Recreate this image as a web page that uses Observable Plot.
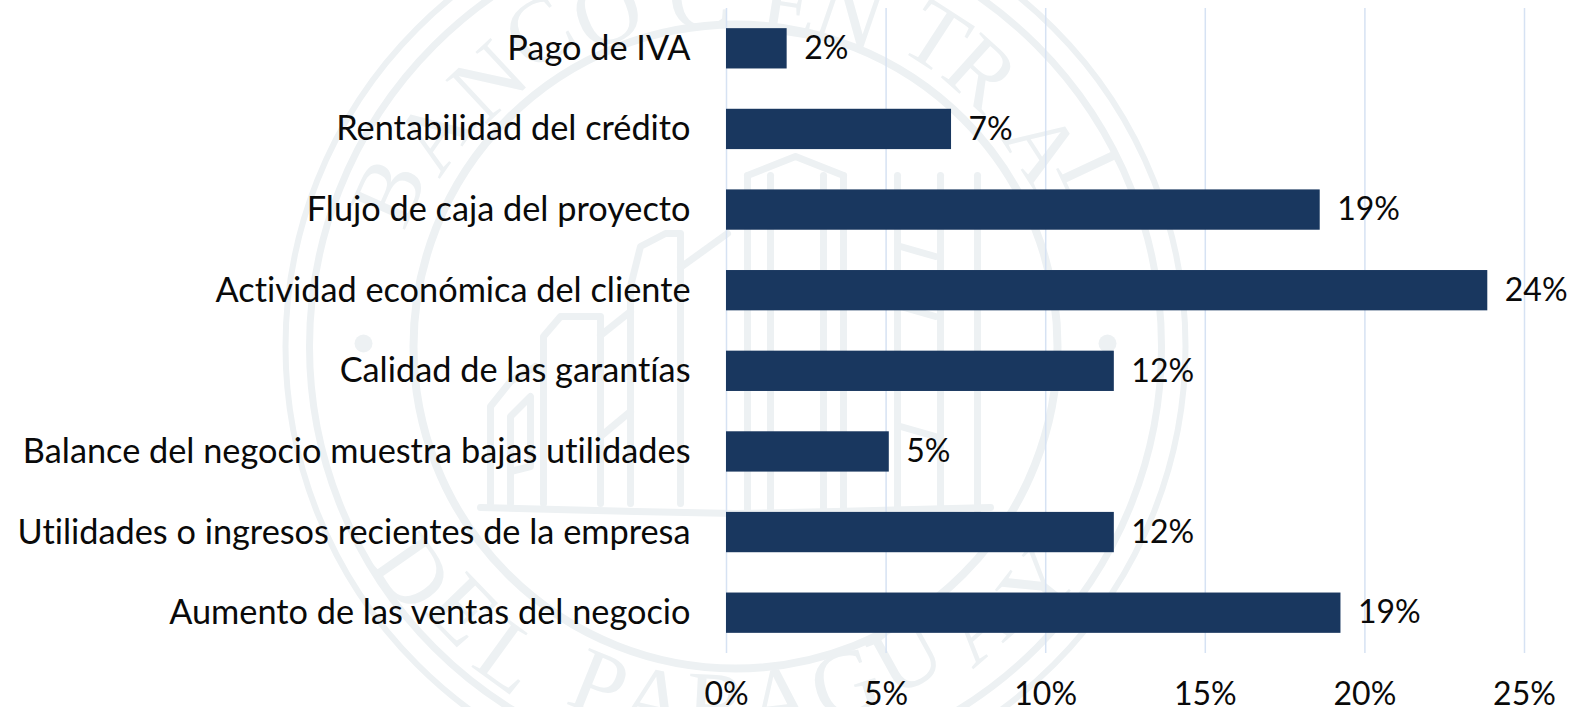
<!DOCTYPE html>
<html><head><meta charset="utf-8">
<script src="https://cdn.jsdelivr.net/npm/d3@7"></script>
<script src="https://cdn.jsdelivr.net/npm/@observablehq/plot@0.6"></script>
<style>html,body{margin:0;padding:0;background:#fff;overflow:hidden}
#chart{position:relative;width:1574px;height:707px}
#chart svg{position:absolute;left:0;top:0;background:transparent}
text{font-variant-ligatures:none}</style>
</head><body><div id="chart"></div>
<script>
const categories = ["Pago de IVA","Rentabilidad del crédito","Flujo de caja del proyecto","Actividad económica del cliente","Calidad de las garantías","Balance del negocio muestra bajas utilidades","Utilidades o ingresos recientes de la empresa","Aumento de las ventas del negocio"];
const values = [1.9,7.05,18.6,23.85,12.15,5.1,12.15,19.25];
const labels = ["2%","7%","19%","24%","12%","5%","12%","19%"];
const ticks = [0,5,10,15,20,25];

// Watermark seal, in units measured from the seal's centre
const sealInk = "#edf1f3";
const rings = [{r:450,w:6},{r:426,w:7},{r:322,w:8}];
const sealDots = [{x:-372,y:-3},{x:372,y:-3}];
const topLetters = [["B",-66,379],["A",-55,368],["N",-43,362],["C",-32,370],["O",-21,357],["C",-6,350],["E",9,345],["N",19,350],["T",33,368],["R",42,367],["A",57,365],["L",65,395]];
const bottomLetters = [["D",-55,395],["E",-46,380],["L",-36,385],["P",-22,365],["A",-13,364],["R",-3,360],["A",7,357],["G",18,355],["U",29,355],["A",41,370],["Y",52,385]];
const sealPaths = [
  [[-105,157],[-105,-60],[-95,-100],[-70,-113],[-55,-113],[-55,157]],
  [[-192,157],[-192,-10],[-175,-30],[-135,-30],[-135,157]],
  [[-245,157],[-245,60],[-225,35],[-200,20]],
  [[-225,157],[-225,70],[-205,50],[-205,120],[-225,125]],
  [[-55,-79],[-8,-113]],[[-135,-11],[-105,-35]],[[-135,90],[-105,65]],
  [[12,-171],[12,164]],[[35,-171],[35,164]],[[88,-171],[88,164]],[[108,-171],[108,164]],
  [[162,-171],[162,164]],[[205,-171],[205,164]],[[242,-171],[242,164]],
  [[12,-171],[60,-190],[108,-171]],
  [[165,-100],[200,-90]],[[165,-40],[200,-30]],[[165,20],[200,30]],[[165,80],[200,90]],
  [[-255,161],[-100,165],[0,167],[100,165],[255,161]]
];
const pathData = sealPaths.flatMap((p,id)=>p.map(([x,y])=>({id,x,y})));
const rad = a => a*Math.PI/180;
const letterData = [
  ...topLetters.map(([t,a,d])=>({t,x:d*Math.sin(rad(a)),y:-d*Math.cos(rad(a)),rot:a})),
  ...bottomLetters.map(([t,a,d])=>({t,x:d*Math.sin(rad(a)),y:d*Math.cos(rad(a)),rot:-a}))
];
const seal = Plot.plot({
  width:1574,height:707,margin:0,
  x:{domain:[-735,839],range:[0,1574],axis:null},
  y:{domain:[-346,361],range:[0,707],axis:null},
  r:{type:"identity"},
  style:{background:"transparent"},
  marks:[
    Plot.dot(rings,{x:()=>0,y:()=>0,r:"r",stroke:sealInk,strokeWidth:"w",fill:"none"}),
    Plot.dot(sealDots,{x:"x",y:"y",r:()=>9,fill:sealInk}),
    Plot.text(letterData,{x:"x",y:"y",text:"t",rotate:"rot",fontSize:92,fontFamily:"'Liberation Serif',serif",fill:sealInk}),
    Plot.line(pathData,{x:"x",y:"y",z:"id",stroke:sealInk,strokeWidth:7,curve:"linear"})
  ]
});

const data = categories.map((c,i)=>({c,v:values[i],l:labels[i]}));
const font = "Lato, 'Open Sans', sans-serif";
const plot = Plot.plot({
  width:1574,height:707,marginLeft:726,marginRight:50,marginTop:8,marginBottom:54,
  style:{fontFamily:font,background:"transparent"},
  x:{domain:[0,25],ticks,tickFormat:d=>d+"%",label:null,tickSize:0,tickPadding:29},
  y:{domain:categories,label:null,tickSize:0,tickPadding:36,paddingInner:0.5,paddingOuter:0.25,round:false},
  marks:[
    Plot.ruleX(ticks,{stroke:"#d6e2f3",strokeWidth:1.5}),
    Plot.barX(data,{x:"v",y:"c",fill:"#19375f",style:{filter:"drop-shadow(2px 3px 3px rgba(0,0,0,.35))"}}),
    Plot.text(data,{x:"v",y:"c",text:"l",textAnchor:"start",dx:17,fontSize:32,fill:"#0a0a0a"})
  ]
});
plot.querySelectorAll('[aria-label="x-axis tick label"] text').forEach(t=>{t.style.fontSize="32px";t.style.fill="#0a0a0a";});
plot.querySelectorAll('[aria-label="y-axis tick label"] text').forEach(t=>{t.style.fontSize="34.3px";t.style.fill="#0a0a0a";});
document.getElementById("chart").append(seal,plot);
</script></body></html>
